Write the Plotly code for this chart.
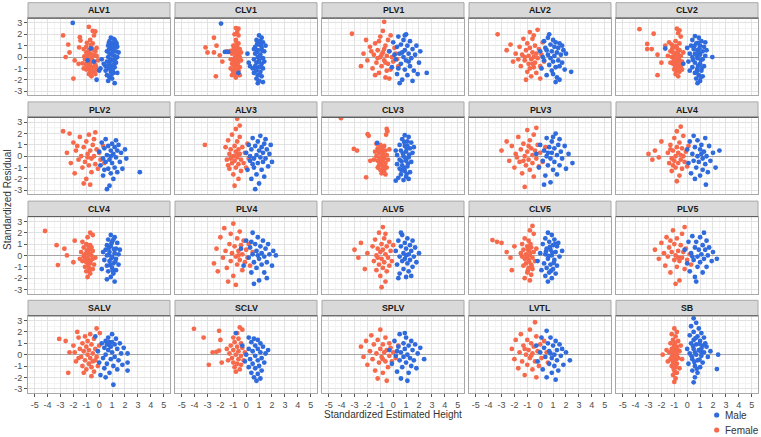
import plotly.graph_objects as go

panel_names = ["ALV1", "CLV1", "PLV1", "ALV2", "CLV2",
               "PLV2", "ALV3", "CLV3", "PLV3", "ALV4",
               "CLV4", "PLV4", "ALV5", "CLV5", "PLV5",
               "SALV", "SCLV", "SPLV", "LVTL", "SB"]
x_ticks = [-5, -4, -3, -2, -1, 0, 1, 2, 3, 4, 5]
x_tick_labels = ["-5", "-4", "-3", "-2", "-1", "0", "1", "2", "3", "4", "5"]
y_ticks = [-3, -2, -1, 0, 1, 2, 3]
y_tick_labels = ["-3", "-2", "-1", "0", "1", "2", "3"]
series_names = ["Male", "Female"]
x_title = "Standardized Estimated Height"
y_title = "Standardized Residual"

# (x, y) points per panel, Female (F) and Male (M)
ALV1_F = [(-2.8,1.9),(-2.4,1.1),(-2.6,0.0),(-2.3,0.4),(-2.0,-1.9),(-1.9,-0.3),(-1.55,0.85),(-1.5,1.75),(-1.45,1.45),(-0.8,2.65),(-0.5,2.3),(-0.3,2.25),(-1.2,0.7),(-1.6,-0.6),(-1.3,-0.55),
          (-1.0,0.9),(-0.8,0.6),(-0.6,0.8),(-0.7,0.3),(-0.9,0.1),(-0.5,0.2),(-0.3,0.5),(-0.2,0.1),(-1.1,-0.2),(-0.8,-0.3),(-0.6,-0.1),(-0.4,-0.4),(-0.7,-0.6),(-0.9,-0.8),(-0.5,-0.9),(-0.3,-0.7),(-1.0,-1.1),(-0.7,-1.2),(-0.4,-1.3),(-0.8,-1.5),(-0.6,-1.7),(-0.2,-1.1),(-1.2,-1.0),(-0.1,-0.3),(-0.5,1.2),(-0.7,1.5),(-0.4,1.9),(-1.0,0.4),(-0.2,0.8),(-0.6,-1.4),(-0.9,-0.5),(-0.3,-1.5),
          (-0.85,0.25),(-0.65,-0.45),(-0.45,0.65),(-1.05,-0.65),(-0.75,-0.95),(-0.55,-0.25),(-0.35,0.15),(-0.95,1.25),(-0.25,-0.85),(-0.65,1.05),(-1.15,0.05),(-0.55,-1.05)]
ALV1_M = [(-2.05,3.0),(-0.65,0.75),(-0.9,-0.3),(-0.4,-0.4),(-0.2,-2.0),(0.1,-1.0),(0.35,-0.6),(0.2,-0.2),(0.0,-1.2),
          (0.9,1.7),(1.1,1.6),(0.8,1.4),(1.3,1.3),(1.0,1.2),(0.7,1.0),(1.2,1.0),(1.4,0.9),(0.9,0.8),(1.1,0.6),(0.6,0.5),(1.3,0.5),(0.8,0.3),(1.0,0.2),(1.2,0.1),(0.7,0.0),(1.4,0.0),(0.9,-0.2),(1.1,-0.3),(0.6,-0.4),(1.3,-0.5),(0.8,-0.6),(1.0,-0.8),(1.2,-0.9),(0.7,-1.0),(0.5,-1.2),(0.9,-1.3),(1.1,-1.4),(1.4,-1.4),(0.6,-1.6),(0.8,-1.8),(1.0,-1.9),(0.7,-2.1),(1.2,-2.3),(0.9,-1.1),(1.5,0.4),(1.2,1.5),(0.5,-0.8),
          (0.95,1.05),(1.05,0.45),(0.75,0.65),(1.25,-0.15),(0.85,-0.35),(1.15,-0.65),(0.65,-0.85),(0.95,-1.55),(1.35,1.15),(1.05,-1.15),(0.75,1.25),(1.15,0.85)]
CLV1_F = [(-2.5,1.7),(-3.15,0.85),(-3.0,0.4),(-2.5,0.4),(-2.3,1.0),(-2.05,0.15),(-1.85,-0.4),(-2.35,-1.7),(-1.5,0.5),(-1.2,0.55),
          (-0.8,2.55),(-0.6,2.5),(-0.7,2.2),(-0.9,2.0),(-0.6,1.9),
          (-0.8,1.5),(-0.6,1.2),(-1.0,1.0),(-0.7,0.9),(-0.5,0.7),(-0.9,0.6),(-0.7,0.4),(-1.1,0.3),(-0.6,0.2),(-0.8,0.1),(-0.5,0.0),(-0.9,-0.1),(-0.7,-0.2),(-1.0,-0.3),(-0.6,-0.4),(-0.8,-0.5),(-1.1,-0.6),(-0.7,-0.7),(-0.9,-0.8),(-0.5,-0.9),(-1.2,-1.0),(-0.8,-1.1),(-0.6,-1.2),(-1.0,-1.3),(-0.7,-1.4),(-0.9,-1.5),(-0.5,-1.6),(-1.1,-1.6),(-0.8,-1.8),(-0.4,-0.3),(-1.2,-0.2),(-0.4,0.4),
          (-0.75,1.25),(-0.95,0.75),(-0.65,0.55),(-0.85,0.35),(-0.75,-0.05),(-0.95,-0.35),(-0.65,-0.55),(-0.85,-0.95),(-0.75,-1.25),(-1.05,-1.15),(-0.65,-0.95),(-0.85,-1.35)]
CLV1_M = [(-1.95,2.95),(-1.65,0.45),(-1.4,0.45),(0.1,0.3),(0.3,-0.8),(0.2,-0.5),(-0.6,-1.4),
          (1.0,1.9),(1.2,1.7),(0.8,1.5),(1.3,1.3),(1.0,1.1),(0.7,0.9),(1.2,0.8),(0.9,0.6),(1.4,0.5),(0.7,0.3),(1.1,0.2),(0.9,0.0),(1.3,-0.1),(0.6,-0.2),(1.0,-0.3),(0.8,-0.5),(1.2,-0.6),(0.7,-0.8),(1.0,-0.9),(1.3,-1.0),(0.8,-1.2),(1.1,-1.3),(0.6,-1.4),(0.9,-1.6),(1.2,-1.7),(0.8,-1.9),(1.0,-2.1),(1.3,-2.2),(0.9,-2.3),(1.1,1.4),(0.6,0.7),(1.4,-0.4),(0.5,-1.0),(1.5,1.0),
          (0.95,1.35),(1.15,1.05),(0.85,0.45),(1.05,0.05),(0.95,-0.45),(1.15,-0.85),(0.75,-1.05),(1.05,-1.55),(1.25,0.55),(0.85,1.15)]
PLV1_F = [(-3.2,2.05),(-2.1,1.5),(-0.7,3.1),
          (-2.3,0.3),(-2.0,-0.3),(-1.8,0.9),(-1.6,-1.0),(-1.5,0.2),(-1.4,1.2),(-1.3,-0.5),(-1.2,0.6),(-1.1,-1.4),(-1.0,0.0),(-1.0,1.8),(-0.9,-0.8),(-0.8,0.4),(-0.8,2.3),(-0.7,-0.3),(-0.6,1.0),(-0.6,-1.8),(-0.5,0.1),(-0.4,-0.6),(-0.4,1.5),(-0.3,0.5),(-0.2,-1.1),(-0.1,0.0),(0.0,-0.4),(0.1,0.8),(0.3,-0.2),(-1.2,-0.1),(-0.9,0.2),(-0.5,-1.2),(-1.7,0.5),(-0.3,-1.9),(0.2,0.3),(-1.1,1.4),(-0.7,0.7),(-2.5,-0.8),(-0.2,1.9),(0.4,-0.8),(-1.4,-1.6),(-0.6,-0.5)]
PLV1_M = [(-0.3,0.5),(-0.1,-0.9),(0.0,1.3),(0.2,-0.2),(0.3,0.9),(0.3,-1.5),(0.4,1.8),(0.5,0.3),(0.6,-0.6),(0.6,1.1),(0.7,-2.0),(0.8,0.0),(0.8,1.5),(0.9,-1.1),(0.9,0.6),(1.0,-0.3),(1.1,1.0),(1.1,-1.6),(1.2,0.3),(1.3,-0.8),(1.3,1.4),(1.4,-0.1),(1.5,0.7),(1.6,-1.2),(1.7,0.2),(1.8,1.0),(2.0,-0.5),(2.1,0.5),(0.5,-2.3),(1.0,2.0),(0.4,-1.0),(1.5,-2.1),(0.7,0.4),(1.2,-0.4),(2.6,-1.4),(0.1,0.2),(1.9,-1.5),(0.9,1.9)]
ALV2_F = [(-3.3,2.0),(-2.6,0.6),(-2.3,1.1),(-2.1,-0.4),(-1.9,0.3),
          (-1.6,0.9),(-1.5,-0.8),(-1.4,0.2),(-1.3,1.6),(-1.2,-0.3),(-1.1,0.6),(-1.0,-1.3),(-1.0,1.2),(-0.9,-0.6),(-0.9,0.1),(-0.8,2.2),(-0.8,0.8),(-0.7,-0.2),(-0.7,-1.7),(-0.6,0.4),(-0.6,1.6),(-0.5,-0.9),(-0.5,0.0),(-0.4,1.0),(-0.4,-0.5),(-0.3,-1.4),(-0.3,0.3),(-0.2,2.4),(-0.2,-0.1),(-0.1,0.7),(0.0,-0.8),(0.1,0.2),(0.2,1.3),(0.3,-0.4),(-1.2,0.0),(-0.8,-1.0),(-1.7,-0.2),(-0.5,1.9),(0.0,-1.9),(-1.1,-2.0),(-0.6,-0.6)]
ALV2_M = [(0.0,0.5),(0.1,-1.0),(0.3,1.4),(0.3,-0.3),(0.4,0.8),(0.5,-1.6),(0.6,0.2),(0.6,1.7),(0.7,-0.7),(0.8,1.1),(0.8,-0.1),(0.9,0.5),(0.9,-1.2),(1.0,1.5),(1.0,-0.4),(1.1,0.9),(1.1,0.1),(1.2,-0.9),(1.2,1.3),(1.3,0.4),(1.3,-1.8),(1.4,0.8),(1.4,-0.3),(1.5,1.2),(1.5,-0.8),(1.6,0.2),(1.7,-0.5),(1.8,0.6),(1.9,-1.1),(2.0,0.3),(2.4,-1.3),(1.5,-2.0),(0.7,2.0),(1.2,-2.2),(0.2,0.0),(1.0,-1.5),(1.7,1.0),(0.5,0.6)]
CLV2_F = [(-3.7,2.45),(-2.6,2.05),(-3.1,1.15),(-3.1,0.7),(-2.75,0.7),(-2.3,0.2),(-2.0,-0.5),(-2.3,-1.6),(-1.7,1.0),
          (-0.8,2.5),(-0.6,2.35),(-0.7,2.1),(-0.5,1.8),
          (-1.4,1.3),(-1.2,1.1),(-1.0,0.9),(-0.8,0.8),(-0.6,0.6),(-1.3,0.5),(-1.1,0.4),(-0.9,0.3),(-0.7,0.2),(-0.5,0.1),(-1.2,0.0),(-1.0,-0.1),(-0.8,-0.2),(-0.6,-0.3),(-0.4,-0.4),(-1.3,-0.5),(-1.1,-0.6),(-0.9,-0.7),(-0.7,-0.8),(-0.5,-0.9),(-1.0,-1.1),(-0.8,-1.2),(-0.6,-1.3),(-0.4,-1.1),(-0.9,-1.5),(-0.7,-1.7),(-0.3,0.4),(-1.5,0.1),(-0.6,1.2),(-0.9,1.4),
          (-0.75,0.45),(-0.95,0.15),(-0.65,-0.05),(-0.85,-0.45),(-1.05,-0.35),(-0.55,-0.65),(-0.95,-0.95),(-0.75,-1.05),(-0.85,0.95),(-1.15,0.75)]
CLV2_M = [(-1.7,0.75),(1.95,0.0),(-0.3,-0.6),
          (0.6,1.85),(0.9,1.7),(0.4,1.5),(1.1,1.4),(0.7,1.2),(0.3,1.0),(1.0,1.0),(1.3,0.9),(0.5,0.7),(0.8,0.6),(1.2,0.5),(0.2,0.3),(0.6,0.3),(1.0,0.2),(1.4,0.1),(0.4,0.0),(0.8,-0.1),(1.2,-0.2),(0.1,-0.4),(0.6,-0.5),(1.0,-0.6),(1.3,-0.8),(0.4,-0.9),(0.8,-1.0),(1.1,-1.2),(0.6,-1.4),(0.9,-1.6),(1.2,-1.7),(0.7,-1.9),(1.0,-2.1),(0.8,-2.3),(0.0,0.8),(1.5,0.6),(0.2,-1.2),(1.4,1.3),(0.9,0.4),
          (0.85,1.25),(0.55,0.95),(0.95,0.75),(0.75,0.15),(1.05,-0.25),(0.45,-0.25),(0.85,-0.75),(1.15,-0.95),(0.75,-1.25),(1.05,-1.75)]
PLV2_F = [(-2.8,2.2),(-2.3,2.0),(-2.5,0.3),(-2.2,-0.6),(-2.0,1.2),(-1.9,-1.5),(-1.8,0.5),(-1.6,-0.3),(-1.5,1.7),(-1.4,0.0),(-1.3,-1.0),(-1.2,0.8),(-1.1,-0.5),(-1.0,1.3),(-1.0,-2.0),(-0.9,0.2),(-0.8,-0.8),(-0.8,1.9),(-0.7,0.5),(-0.6,-0.2),(-0.6,-1.4),(-0.5,1.0),(-0.4,0.0),(-0.3,-0.7),(-0.3,2.1),(-0.2,0.6),(-0.1,-1.1),(0.0,0.3),(0.1,-0.3),(0.3,0.9),(0.4,-0.6),(-1.2,-2.4),(-0.7,-2.5),(-0.4,1.5),(-1.7,0.9),(-0.9,-0.1)]
PLV2_M = [(0.0,0.4),(0.1,-0.8),(0.2,1.2),(0.3,-0.2),(0.3,-1.7),(0.4,0.7),(0.5,-0.5),(0.5,1.5),(0.6,0.1),(0.7,-1.1),(0.7,0.9),(0.8,-0.3),(0.8,-2.6),(0.9,0.5),(0.9,-1.5),(1.0,1.1),(1.0,-0.6),(1.1,0.2),(1.1,-2.0),(1.2,0.8),(1.2,-1.0),(1.3,-0.1),(1.4,0.5),(1.4,-1.4),(1.5,1.0),(1.6,-0.5),(1.7,0.3),(1.8,-1.1),(2.0,0.6),(2.1,-0.2),(3.15,-1.4),(0.6,-2.9),(0.4,-1.2),(1.3,1.4),(0.9,0.0)]
ALV3_F = [(-3.2,1.0),(-0.7,3.3),
          (-1.6,0.8),(-1.5,-0.3),(-1.4,1.4),(-1.3,0.2),(-1.3,-1.1),(-1.2,0.6),(-1.1,-0.6),(-1.1,1.9),(-1.0,0.0),(-1.0,-1.6),(-0.9,0.9),(-0.9,-0.4),(-0.8,0.4),(-0.8,-1.0),(-0.8,2.4),(-0.7,-0.1),(-0.7,1.3),(-0.6,0.6),(-0.6,-0.7),(-0.6,-2.0),(-0.5,0.2),(-0.5,1.7),(-0.4,-0.3),(-0.4,-1.3),(-0.3,0.8),(-0.2,-0.6),(-0.1,0.3),(0.0,-1.0),(0.1,1.1),(0.2,-0.2),(-0.9,-2.6),(-1.2,-0.2),(-0.5,2.7),(-1.4,-0.8),(-0.7,0.1)]
ALV3_M = [(0.0,0.3),(0.1,-1.2),(0.2,1.0),(0.3,-0.4),(0.4,0.6),(0.4,-2.0),(0.5,1.6),(0.6,-0.2),(0.6,-1.0),(0.7,0.9),(0.8,0.1),(0.8,-1.6),(0.9,1.3),(0.9,-0.6),(1.0,0.5),(1.0,-2.4),(1.1,-0.1),(1.1,1.8),(1.2,0.8),(1.2,-1.2),(1.3,-0.5),(1.3,0.3),(1.4,1.1),(1.4,-1.8),(1.5,-0.2),(1.6,0.6),(1.7,-0.9),(1.8,0.2),(2.0,-0.5),(0.7,-2.9),(1.5,1.5),(0.3,0.0),(1.9,1.0),(0.5,-0.7)]
CLV3_F = [(-4.05,3.35),(-1.98,1.94),(-1.9,1.8),(-0.5,2.4),(-0.45,2.2),(-0.55,1.9),(-3.05,0.64),(-2.8,0.5),(-2.1,-1.86),(-1.78,-0.4),
          (-1.3,1.1),(-1.0,1.0),(-0.7,0.9),(-1.2,0.7),(-0.9,0.6),(-0.6,0.5),(-1.4,0.4),(-1.1,0.3),(-0.8,0.2),(-0.5,0.1),(-1.3,0.0),(-1.0,-0.1),(-0.7,-0.2),(-0.4,-0.3),(-1.2,-0.4),(-0.9,-0.5),(-0.6,-0.6),(-1.1,-0.8),(-0.8,-0.9),(-0.5,-1.0),(-1.0,-1.2),(-0.7,-1.3),(-0.9,-1.5),(-0.6,-1.6),(-1.5,-0.3),(-0.3,0.6),(-1.2,-1.0),(-0.8,0.5),
          (-0.95,0.35),(-0.75,0.05),(-1.05,-0.25),(-0.85,-0.35),(-0.65,-0.85),(-0.95,-0.75),(-1.15,0.55),(-0.85,0.75),(-0.75,-1.05),(-1.05,-0.55)]
CLV3_M = [(-1.24,1.17),(0.2,-2.15),
          (0.9,1.85),(1.2,1.7),(0.7,1.5),(1.1,1.3),(1.4,1.2),(0.5,1.0),(0.9,0.9),(1.3,0.7),(0.6,0.5),(1.0,0.4),(1.5,0.3),(0.3,0.1),(0.8,0.0),(1.2,-0.1),(0.5,-0.3),(1.0,-0.4),(1.4,-0.5),(0.3,-0.7),(0.7,-0.8),(1.1,-0.9),(0.5,-1.1),(0.9,-1.3),(1.3,-1.4),(0.6,-1.6),(1.0,-1.8),(0.4,-1.9),(0.8,-2.1),(1.2,-2.0),(1.6,0.8),(0.2,0.5),(1.1,0.9),
          (0.85,1.25),(1.05,0.65),(0.75,0.25),(1.25,0.15),(0.95,-0.15),(0.65,-0.45),(1.15,-0.65),(0.85,-1.05),(1.05,-1.55),(0.65,-1.25)]
PLV3_F = [(-3.0,0.5),(-2.6,1.3),(-2.4,-0.4),(-2.2,0.9),(-2.0,-1.0),(-1.9,0.2),(-1.7,1.7),(-1.6,-0.5),(-1.5,0.6),(-1.4,-1.5),(-1.3,1.1),(-1.2,0.0),(-1.2,-2.7),(-1.1,-0.8),(-1.0,2.3),(-1.0,0.4),(-0.9,-0.3),(-0.8,1.4),(-0.8,-1.2),(-0.7,0.7),(-0.6,-0.6),(-0.6,0.1),(-0.5,1.9),(-0.5,-1.8),(-0.4,0.5),(-0.3,-0.2),(-0.2,1.0),(-0.1,-0.9),(0.0,0.3),(0.2,-0.5),(0.4,0.8),(-1.8,-0.1),(-0.9,0.9),(-1.3,-0.4),(-0.3,2.5)]
PLV3_M = [(-0.3,0.2),(-0.1,-1.0),(0.0,1.0),(0.2,-0.4),(0.3,0.5),(0.4,-1.7),(0.5,1.6),(0.5,0.0),(0.6,-0.8),(0.7,0.8),(0.8,-0.2),(0.8,-2.3),(0.9,1.3),(0.9,0.3),(1.0,-1.2),(1.1,-0.5),(1.1,0.7),(1.2,2.0),(1.3,0.1),(1.3,-1.6),(1.4,1.0),(1.5,-0.8),(1.6,0.4),(1.7,-0.2),(1.9,0.9),(2.0,-1.1),(2.2,0.2),(2.5,-0.6),(0.3,-2.5),(1.0,1.7),(0.6,0.3),(1.5,1.5)]
ALV4_F = [(-3.0,0.2),(-2.7,-0.3),(-2.5,0.5),(-2.2,-0.1),(-2.0,1.3),
          (-1.5,0.3),(-1.4,-0.6),(-1.3,1.0),(-1.2,-0.2),(-1.2,-1.3),(-1.1,0.5),(-1.0,1.6),(-1.0,-0.4),(-0.9,0.0),(-0.9,-1.0),(-0.8,0.8),(-0.8,2.2),(-0.7,-0.6),(-0.7,0.3),(-0.6,1.2),(-0.6,-1.7),(-0.5,0.1),(-0.5,-0.3),(-0.4,0.7),(-0.4,-1.1),(-0.3,1.8),(-0.2,-0.5),(-0.1,0.4),(0.0,-0.9),(0.1,0.9),(-1.1,-0.8),(-0.8,-2.2),(-0.5,2.6),(-1.3,0.6),(-0.3,0.0)]
ALV4_M = [(0.0,0.6),(0.1,-0.6),(0.2,1.3),(0.3,-1.5),(0.4,0.2),(0.5,1.8),(0.5,-0.4),(0.6,0.8),(0.7,-1.0),(0.8,0.0),(0.8,1.4),(0.9,-0.5),(1.0,0.6),(1.0,-1.7),(1.1,1.0),(1.2,-0.2),(1.2,-1.2),(1.3,0.4),(1.4,1.6),(1.4,-0.7),(1.5,0.0),(1.6,-1.4),(1.7,0.9),(1.8,-0.4),(2.0,0.3),(2.2,-1.0),(1.45,-2.5),(2.5,0.5),(0.6,-2.0),(1.1,0.2)]
CLV4_F = [(-4.2,2.15),(-3.3,0.9),(-2.7,0.6),(-3.2,-0.85),(-2.5,0.0),(-1.9,1.3),(-2.0,-0.6),
          (-0.7,2.0),(-0.5,1.8),(-0.9,1.6),
          (-1.3,1.2),(-1.0,1.0),(-0.7,0.9),(-1.2,0.7),(-0.8,0.5),(-0.5,0.4),(-1.4,0.3),(-1.0,0.2),(-0.6,0.0),(-1.2,-0.1),(-0.9,-0.2),(-0.5,-0.3),(-1.3,-0.5),(-1.0,-0.6),(-0.7,-0.7),(-0.4,-0.8),(-1.1,-1.0),(-0.8,-1.1),(-0.5,-1.2),(-1.0,-1.4),(-0.7,-1.6),(-0.9,-1.9),(-0.6,0.7),(-1.5,-0.3),(-0.3,-0.2),(-0.8,-0.4),
          (-0.95,0.45),(-0.75,0.15),(-1.05,-0.35),(-0.85,-0.75),(-0.65,-0.45),(-1.15,0.05),(-0.85,0.85),(-0.75,-1.35)]
CLV4_M = [(0.9,1.8),(1.2,1.6),(0.7,1.4),(1.0,1.2),(1.4,1.1),(0.6,0.9),(0.9,0.8),(1.3,0.6),(0.5,0.5),(0.8,0.3),(1.2,0.2),(1.5,0.1),(0.6,0.0),(1.0,-0.1),(1.3,-0.3),(0.4,-0.4),(0.8,-0.5),(1.1,-0.7),(1.5,-0.8),(0.6,-0.9),(1.0,-1.1),(1.3,-1.3),(0.7,-1.4),(1.1,-1.6),(0.9,-1.9),(0.6,-2.1),(1.2,-2.3),(1.6,0.5),(0.3,0.3),(0.2,-1.2),(1.1,1.4),
          (0.95,1.05),(1.15,0.55),(0.75,0.05),(0.95,-0.25),(1.25,-0.55),(0.85,-0.85),(1.05,-1.35),(0.75,0.65)]
PLV4_F = [(-2.5,-0.7),(-2.2,-1.4),(-2.3,0.6),(-2.0,1.6),(-1.8,-0.2),(-1.7,2.4),(-1.6,0.4),(-1.5,-1.1),(-1.3,1.0),(-1.2,-0.5),(-1.1,0.2),(-1.0,2.8),(-1.0,-1.8),(-0.9,0.8),(-0.8,-0.1),(-0.7,1.5),(-0.7,-0.8),(-0.6,0.4),(-0.5,-0.4),(-0.5,2.1),(-0.4,0.9),(-0.3,-1.3),(-0.3,0.1),(-0.2,1.3),(-0.1,-0.6),(0.0,0.5),(0.1,-0.2),(0.2,1.0),(0.3,-0.9),(0.5,0.3),(-1.4,-2.3),(-0.8,-2.6),(-1.2,1.9),(-0.6,0.0)]
PLV4_M = [(-0.4,0.6),(-0.2,-0.9),(0.0,1.3),(0.2,-0.2),(0.3,0.7),(0.4,-1.5),(0.5,2.0),(0.5,0.1),(0.6,-0.6),(0.7,1.0),(0.8,-1.1),(0.8,0.4),(0.9,1.6),(1.0,-0.3),(1.0,-2.2),(1.1,0.8),(1.2,-0.8),(1.2,0.2),(1.3,1.3),(1.4,-1.5),(1.4,-0.1),(1.5,0.6),(1.6,-0.6),(1.7,1.0),(1.8,0.1),(2.0,-0.9),(2.1,0.4),(2.3,0.0),(0.6,-2.5),(1.6,-2.0),(0.9,0.0),(0.4,1.2)]
ALV5_F = [(-3.0,0.5),(-2.7,-0.2),(-2.5,1.1),(-2.2,-1.2),(-2.0,0.2),
          (-1.6,0.8),(-1.5,-0.5),(-1.4,1.4),(-1.3,0.0),(-1.3,-1.3),(-1.2,0.6),(-1.1,-0.8),(-1.1,2.0),(-1.0,0.3),(-1.0,-1.8),(-0.9,1.0),(-0.9,-0.3),(-0.8,0.5),(-0.8,-1.1),(-0.8,2.5),(-0.7,-0.6),(-0.7,1.5),(-0.6,0.1),(-0.6,-2.3),(-0.5,0.8),(-0.5,-1.4),(-0.4,-0.2),(-0.3,1.2),(-0.3,-0.9),(-0.2,0.4),(-0.1,-0.5),(0.0,0.9),(-0.9,-2.8),(-1.2,-0.2),(-0.6,1.9)]
ALV5_M = [(0.2,0.4),(0.3,-0.8),(0.4,1.3),(0.5,-0.1),(0.5,-1.6),(0.6,0.8),(0.7,-0.5),(0.7,1.8),(0.8,0.2),(0.8,-1.2),(0.9,1.1),(0.9,-0.3),(1.0,0.6),(1.0,-1.9),(1.1,-0.7),(1.1,1.5),(1.2,0.1),(1.2,-1.4),(1.3,0.9),(1.3,-0.4),(1.4,0.4),(1.5,-1.0),(1.5,1.3),(1.6,-0.1),(1.7,0.7),(1.8,-0.6),(2.0,0.2),(0.6,2.0),(0.4,-2.0),(1.4,-1.8),(1.0,0.0)]
CLV5_F = [(-3.7,1.35),(-3.35,1.2),(-3.0,1.1),(-2.6,0.3),(-2.3,-0.2),(-2.0,0.8),(-2.2,-1.3),
          (-0.6,2.6),(-0.8,2.2),(-0.5,1.9),(-1.2,1.5),(-0.9,1.3),(-1.4,1.0),(-1.0,0.8),(-0.7,0.7),(-1.3,0.5),(-0.9,0.4),(-0.5,0.3),(-1.1,0.1),(-0.8,0.0),(-1.4,-0.1),(-0.6,-0.2),(-1.2,-0.3),(-0.9,-0.4),(-0.4,-0.5),(-1.1,-0.7),(-0.7,-0.8),(-1.3,-0.9),(-0.9,-1.1),(-0.6,-1.2),(-1.0,-1.5),(-0.7,-1.7),(-1.2,-2.0),(-0.8,-2.2),(-0.3,0.6),(-1.5,0.2),
          (-0.95,0.55),(-0.75,0.25),(-1.05,-0.15),(-0.85,-0.55),(-0.65,-1.0),(-0.95,-1.3),(-0.75,1.0)]
CLV5_M = [(0.6,2.0),(0.9,1.8),(0.4,1.5),(1.1,1.4),(0.7,1.2),(0.2,1.0),(1.0,0.9),(1.3,0.8),(0.5,0.6),(0.8,0.5),(1.2,0.3),(0.0,0.2),(0.4,0.1),(0.9,0.0),(1.5,-0.1),(0.6,-0.3),(1.1,-0.4),(-0.2,-0.5),(0.3,-0.7),(0.8,-0.8),(1.3,-0.9),(0.5,-1.1),(1.0,-1.2),(0.7,-1.5),(1.2,-1.6),(0.4,-1.8),(0.9,-2.0),(0.6,-2.3),(1.7,0.4),(0.1,-1.3),(1.4,1.1),
          (0.75,0.75),(0.95,0.25),(0.65,-0.05),(1.05,-0.65),(0.85,-1.35),(0.45,0.35),(1.15,1.0)]
PLV5_F = [(-2.5,0.5),(-2.2,-0.3),(-2.0,1.1),(-1.8,0.2),(-1.7,-0.9),(-1.6,1.6),(-1.5,-0.1),(-1.4,0.7),(-1.3,-1.5),(-1.2,0.3),(-1.1,2.2),(-1.0,-0.4),(-1.0,1.0),(-0.9,0.0),(-0.8,-1.0),(-0.8,1.5),(-0.7,0.4),(-0.6,-0.5),(-0.6,-2.2),(-0.5,0.9),(-0.4,-0.2),(-0.4,1.9),(-0.3,0.3),(-0.2,-1.2),(-0.1,0.6),(0.0,-0.4),(0.2,0.1),(0.3,-0.8),(-0.9,-2.5),(-1.3,1.3),(-0.7,-0.2),(-0.2,2.5)]
PLV5_M = [(-0.2,0.5),(0.0,-0.7),(0.1,1.2),(0.2,-1.4),(0.3,0.2),(0.4,1.7),(0.5,-0.4),(0.6,0.7),(0.6,-1.9),(0.7,1.2),(0.8,-0.1),(0.8,-1.0),(0.9,0.5),(1.0,1.6),(1.0,-0.6),(1.1,0.1),(1.2,-1.5),(1.2,0.9),(1.3,-0.3),(1.4,0.5),(1.5,-1.0),(1.5,1.3),(1.6,0.0),(1.7,0.7),(1.9,-0.5),(2.0,0.3),(2.3,-0.3),(0.7,-2.3),(1.3,2.0),(0.4,-0.1)]
SALV_F = [(-3.1,1.38),(-2.6,1.2),(-1.7,2.0),(-2.4,-1.6),
          (-2.0,0.8),(-1.9,0.2),(-1.8,-0.6),(-1.6,1.5),(-1.5,0.5),(-1.4,-0.2),(-1.3,1.0),(-1.3,-1.0),(-1.2,0.3),(-1.1,1.6),(-1.1,-0.5),(-1.0,0.7),(-1.0,-1.3),(-0.9,0.0),(-0.9,1.2),(-0.8,-0.8),(-0.8,0.4),(-0.7,-0.3),(-0.7,1.8),(-0.6,0.9),(-0.6,-1.1),(-0.5,0.1),(-0.5,-0.6),(-0.4,1.4),(-0.4,-1.5),(-0.3,0.5),(-0.2,-0.2),(-0.2,2.3),(-0.1,-1.0),(0.0,0.8),(0.05,1.9),(-1.6,-0.3),(-1.2,-1.6),(-0.6,-1.9),(-2.3,0.2),(-0.3,-0.5)]
SALV_M = [(-0.3,1.6),(-0.1,0.3),(0.0,-0.7),(0.1,-1.8),(0.2,1.0),(0.3,-0.3),(0.4,0.6),(0.4,-1.2),(0.5,1.2),(0.5,0.0),(0.6,0.9),(0.6,-0.8),(0.7,1.5),(0.7,0.4),(0.8,-1.6),(0.8,1.1),(0.9,0.7),(0.9,-0.4),(1.0,1.8),(1.0,0.2),(1.1,-1.0),(1.1,-2.65),(1.2,0.9),(1.2,-0.2),(1.3,1.4),(1.4,0.5),(1.4,-1.3),(1.5,-0.5),(1.6,1.0),(1.7,0.1),(1.8,-0.9),(1.9,0.6),(2.2,0.1),(2.2,-0.7),(2.2,-1.4),(0.5,-2.0),(0.8,0.8),(1.0,1.1)]
SCLV_F = [(-4.05,2.27),(-3.3,1.5),(-2.1,2.1),(-2.9,-0.9),(-2.6,0.2),(-2.3,0.25),(-2.1,0.35),(-1.9,-0.7),(-2.0,1.3),
          (-0.5,2.4),(-0.3,2.2),(-0.7,1.9),(-1.0,1.5),(-0.6,1.4),(-0.9,1.1),(-0.4,1.0),(-1.2,0.8),(-0.7,0.7),(-0.3,0.6),(-1.0,0.4),(-0.6,0.3),(-1.3,0.1),(-0.8,0.0),(-0.4,-0.1),(-1.1,-0.3),(-0.6,-0.4),(-0.2,-0.5),(-1.0,-0.7),(-0.7,-0.8),(-0.4,-0.9),(-0.9,-1.1),(-0.5,-1.3),(-0.8,-1.5),(-1.4,-0.5),(-0.1,0.2),(-1.5,0.5)]
SCLV_M = [(0.2,1.5),(0.6,1.4),(0.9,1.3),(0.4,1.1),(1.1,1.0),(-0.3,0.8),(0.7,0.8),(1.3,0.7),(0.2,0.5),(0.9,0.5),(0.5,0.3),(1.1,0.2),(1.5,0.1),(0.0,0.0),(0.7,-0.1),(1.2,-0.3),(0.3,-0.4),(0.9,-0.5),(1.4,-0.7),(0.5,-0.8),(1.0,-1.0),(0.2,-1.1),(0.7,-1.2),(1.2,-1.4),(0.4,-1.6),(0.9,-1.7),(0.6,-2.0),(1.1,-2.1),(0.8,-2.3),(1.7,0.4),(-0.1,-0.6),(-0.8,1.9)]
SPLV_F = [(-2.5,0.7),(-2.3,-0.2),(-2.1,1.2),(-2.0,-0.9),(-1.8,0.3),(-1.7,1.7),(-1.6,-0.4),(-1.5,0.9),(-1.4,-1.4),(-1.3,0.1),(-1.2,1.3),(-1.1,-0.7),(-1.0,0.5),(-1.0,2.2),(-0.9,-0.2),(-0.8,-1.6),(-0.8,0.9),(-0.7,0.2),(-0.6,-0.6),(-0.6,1.5),(-0.5,0.4),(-0.4,-1.1),(-0.3,-0.1),(-0.3,1.0),(-0.2,0.6),(-0.1,-0.6),(0.0,0.2),(0.2,-0.3),(0.4,0.8),(-1.2,-2.1),(-0.5,-2.3),(-0.8,-0.4)]
SPLV_M = [(-0.3,0.4),(-0.1,-0.8),(0.1,1.2),(0.2,-0.1),(0.3,-1.5),(0.4,0.7),(0.5,1.8),(0.5,-0.5),(0.6,0.2),(0.7,-1.1),(0.8,1.0),(0.8,-0.2),(0.9,0.5),(1.0,-0.7),(1.0,1.5),(1.1,0.0),(1.2,-1.6),(1.2,0.8),(1.3,-0.3),(1.4,1.2),(1.4,-1.0),(1.5,0.4),(1.6,-0.5),(1.7,0.9),(1.8,-1.2),(1.9,0.1),(2.1,0.6),(2.4,-0.4),(0.6,-2.1),(1.1,-2.3),(0.9,1.9),(0.3,0.3)]
LVTL_F = [(-2.2,0.5),(-2.0,-0.4),(-1.9,1.3),(-1.7,-1.2),(-1.6,0.2),(-1.5,1.8),(-1.4,-0.6),(-1.3,0.8),(-1.2,-1.8),(-1.1,0.0),(-1.0,1.3),(-1.0,-0.9),(-0.9,0.4),(-0.8,2.2),(-0.8,-0.3),(-0.7,1.0),(-0.6,-1.3),(-0.6,0.1),(-0.5,0.7),(-0.4,2.85),(-0.4,-0.6),(-0.3,1.6),(-0.3,-2.0),(-0.2,0.3),(-0.1,-1.0),(0.0,0.9),(0.1,-0.3),(0.3,1.2),(0.5,0.2),(0.6,-0.7),(-1.2,0.5),(-0.7,-0.1)]
LVTL_M = [(-0.3,0.8),(-0.2,-0.6),(0.0,0.2),(0.1,1.5),(0.2,-1.3),(0.3,0.6),(0.4,-0.2),(0.5,2.1),(0.5,-2.0),(0.6,1.0),(0.7,-0.8),(0.7,0.3),(0.8,1.5),(0.9,-0.3),(0.9,-1.6),(1.0,0.8),(1.1,0.0),(1.1,-1.0),(1.2,1.2),(1.3,-0.5),(1.3,0.4),(1.4,-1.4),(1.5,0.9),(1.6,-0.1),(1.7,0.5),(1.8,-0.9),(2.0,0.2),(2.3,-0.5),(1.2,-2.2),(0.8,0.1)]
SB_F = [(-1.0,2.3),(-0.8,2.0),(-1.2,1.8),(-0.9,1.6),(-1.1,1.3),(-0.7,1.2),(-1.3,1.0),(-1.0,0.9),(-0.8,0.7),(-1.2,0.5),(-0.9,0.4),(-0.6,0.3),(-1.4,0.2),(-1.1,0.1),(-0.8,0.0),(-1.0,-0.2),(-0.7,-0.3),(-1.3,-0.4),(-0.9,-0.5),(-1.1,-0.7),(-0.8,-0.8),(-1.2,-1.0),(-0.9,-1.1),(-0.6,-1.2),(-1.0,-1.4),(-0.8,-1.6),(-1.1,-1.8),(-0.9,-2.1),(-1.0,-2.4),(-1.9,0.0),(-1.6,0.4),(-0.5,0.8),(-1.5,-0.6),(-0.4,-0.4),(-1.2,-0.2),
        (-0.95,1.05),(-1.05,0.65),(-0.85,0.25),(-1.15,-0.45),(-0.95,-0.85),(-1.05,-1.25),(-0.85,-0.15),(-0.75,0.45),(-1.15,0.35),(-0.95,-1.6)]
SB_M = [(0.5,3.2),(0.7,2.8),(0.3,2.5),(0.9,2.3),(0.5,2.0),(1.1,1.9),(0.2,1.7),(0.8,1.6),(1.3,1.5),(0.5,1.3),(1.0,1.2),(0.3,1.0),(0.7,0.9),(1.2,0.8),(1.5,0.7),(0.0,0.5),(0.5,0.5),(0.9,0.4),(1.3,0.2),(0.2,0.1),(0.7,0.0),(1.1,-0.1),(1.6,-0.2),(0.4,-0.4),(0.8,-0.5),(1.2,-0.7),(0.1,-0.8),(0.6,-1.0),(1.0,-1.1),(0.4,-1.4),(0.8,-1.6),(0.6,-2.0),(0.5,-2.44),(2.4,0.0),(2.3,-1.27),(1.8,0.3),(1.4,1.0),
        (0.65,1.45),(0.95,0.95),(0.45,0.75),(1.05,0.25),(0.35,-0.15),(0.95,-0.45),(0.55,-0.65),(0.75,-1.25),(1.1,0.55),(0.6,0.2)]

female_sets = [ALV1_F, CLV1_F, PLV1_F, ALV2_F, CLV2_F, PLV2_F, ALV3_F, CLV3_F, PLV3_F, ALV4_F,
               CLV4_F, PLV4_F, ALV5_F, CLV5_F, PLV5_F, SALV_F, SCLV_F, SPLV_F, LVTL_F, SB_F]
male_sets = [ALV1_M, CLV1_M, PLV1_M, ALV2_M, CLV2_M, PLV2_M, ALV3_M, CLV3_M, PLV3_M, ALV4_M,
             CLV4_M, PLV4_M, ALV5_M, CLV5_M, PLV5_M, SALV_M, SCLV_M, SPLV_M, LVTL_M, SB_M]

# ---- styling / geometry ----
W, H = 761, 437
MALE_C = "#2f6bdc"
FEMALE_C = "#f6694b"
FONT = "Liberation Sans, Arial, sans-serif"
PANEL_W, PANEL_H = 142, 77
STRIP_H = 15.5
X_RANGE = [-5.52, 5.49]
Y_RANGE = [-3.36, 3.42]

fig = go.Figure()
layout = dict(
    width=W, height=H, margin=dict(l=0, r=0, t=0, b=0),
    paper_bgcolor="white", plot_bgcolor="white",
    showlegend=False, font=dict(family=FONT, color="#4d4d4d"),
)
shapes, annotations = [], []

for i, name in enumerate(panel_names):
    r, c = divmod(i, 5)
    left = 28 + 147 * c
    strip_top = 2.7 + 99.2 * r
    ptop = strip_top + STRIP_H
    pbot = ptop + PANEL_H
    k = "" if i == 0 else str(i + 1)
    xa, ya = "xaxis" + k, "yaxis" + k
    bottom_row = (r == 3)
    left_col = (c == 0)
    layout[xa] = dict(
        domain=[left / W, (left + PANEL_W) / W], anchor="y" + k, range=X_RANGE,
        tickmode="array", tickvals=x_ticks, ticktext=x_tick_labels,
        showticklabels=bottom_row, ticks="outside" if bottom_row else "",
        ticklen=3, tickcolor="#555555", tickfont=dict(size=9, color="#4d4d4d"),
        showgrid=True, gridcolor="#e2e2e2", gridwidth=0.8, zeroline=False,
        minor=dict(dtick=0.5, tick0=0, showgrid=True, gridcolor="#f4f4f4", gridwidth=0.5, ticks=""),
        showline=True, mirror=True, linecolor="#a8a8a8", linewidth=1,
    )
    layout[ya] = dict(
        domain=[1 - pbot / H, 1 - ptop / H], anchor="x" + k, range=Y_RANGE,
        tickmode="array", tickvals=y_ticks, ticktext=y_tick_labels,
        showticklabels=left_col, ticks="outside" if left_col else "",
        ticklen=3, tickcolor="#555555", tickfont=dict(size=9, color="#4d4d4d"),
        showgrid=True, gridcolor="#e2e2e2", gridwidth=0.8,
        zeroline=True, zerolinecolor="#a6a6a6", zerolinewidth=1,
        minor=dict(dtick=0.5, tick0=0, showgrid=True, gridcolor="#f4f4f4", gridwidth=0.5, ticks=""),
        showline=True, mirror=True, linecolor="#a8a8a8", linewidth=1,
    )
    # strip
    shapes.append(dict(type="rect", xref="paper", yref="paper",
                       x0=left / W, x1=(left + PANEL_W) / W,
                       y0=1 - ptop / H, y1=1 - strip_top / H,
                       fillcolor="#d9d9d9", line=dict(color="#a8a8a8", width=1), layer="below"))
    shapes.append(dict(type="line", xref="paper", yref="paper",
                       x0=left / W, x1=(left + PANEL_W) / W,
                       y0=1 - ptop / H, y1=1 - ptop / H,
                       line=dict(color="#555555", width=1)))
    annotations.append(dict(text="<b>%s</b>" % name, xref="paper", yref="paper",
                            x=(left + PANEL_W / 2) / W, y=1 - (strip_top + STRIP_H / 2) / H,
                            showarrow=False, xanchor="center", yanchor="middle",
                            font=dict(size=8.8, color="#1a1a1a", family=FONT)))
    fpts = female_sets[i]
    mpts = male_sets[i]
    fig.add_trace(go.Scatter(
        x=[p[0] for p in fpts], y=[p[1] for p in fpts], mode="markers", name=series_names[1],
        xaxis="x" + k, yaxis="y" + k,
        marker=dict(color=FEMALE_C, size=4.8, line=dict(width=0))))
    fig.add_trace(go.Scatter(
        x=[p[0] for p in mpts], y=[p[1] for p in mpts], mode="markers", name=series_names[0],
        xaxis="x" + k, yaxis="y" + k,
        marker=dict(color=MALE_C, size=4.8, line=dict(width=0))))

# axis titles
annotations.append(dict(text=x_title, xref="paper", yref="paper", x=393 / W, y=1 - 414 / H,
                        showarrow=False, xanchor="center", yanchor="middle",
                        font=dict(size=10, color="#333333", family=FONT)))
annotations.append(dict(text=y_title, xref="paper", yref="paper", x=7 / W, y=1 - 200 / H,
                        showarrow=False, xanchor="center", yanchor="middle", textangle=-90,
                        font=dict(size=10, color="#333333", family=FONT)))

# legend (manual)
for j, (lab, col) in enumerate(zip(series_names, [MALE_C, FEMALE_C])):
    cy = 415 + 15 * j
    cx = 716.7
    shapes.append(dict(type="circle", xref="paper", yref="paper",
                       x0=(cx - 2.6) / W, x1=(cx + 2.6) / W,
                       y0=1 - (cy + 2.6) / H, y1=1 - (cy - 2.6) / H,
                       fillcolor=col, line=dict(width=0)))
    annotations.append(dict(text=lab, xref="paper", yref="paper", x=(cx + 6.5) / W, y=1 - cy / H,
                            showarrow=False, xanchor="left", yanchor="middle",
                            font=dict(size=10, color="#333333", family=FONT)))

layout["shapes"] = shapes
layout["annotations"] = annotations
fig.update_layout(**layout)
fig.write_html("out.html")
